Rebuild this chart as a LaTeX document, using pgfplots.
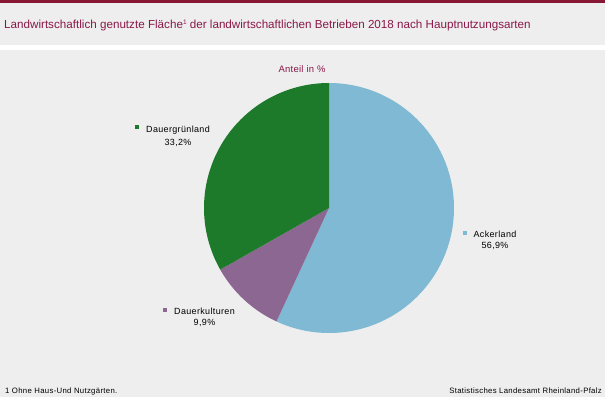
\documentclass[border=0pt]{standalone}
\usepackage{pgfplots}
\pgfplotsset{compat=1.18}
\usepackage{pgfplotstable}
\usepgfplotslibrary{polar}
\usepackage{fontspec}
\setmainfont{Liberation Sans}
\definecolor{bg}{RGB}{237,238,237}
\definecolor{topbar}{RGB}{135,24,52}
\definecolor{titlec}{RGB}{138,24,72}
\definecolor{acker}{RGB}{127,185,212}
\definecolor{gruen}{RGB}{29,122,43}
\definecolor{kultur}{RGB}{139,103,145}
\pgfplotstableread{
cat value
Ackerland 56.9
Dauerkulturen 9.9
Dauergruenland 33.2
}\piedata
\pgfplotstablegetelem{0}{value}\of\piedata \let\vA\pgfplotsretval
\pgfplotstablegetelem{1}{value}\of\piedata \let\vB\pgfplotsretval
\pgfplotstablegetelem{2}{value}\of\piedata \let\vC\pgfplotsretval
\pgfmathsetmacro{\aA}{90-3.6*\vA}
\pgfmathsetmacro{\aB}{\aA-3.6*\vB}
\pgfmathsetmacro{\aC}{\aB-3.6*\vC}
\begin{document}
\begin{tikzpicture}[x=1bp,y=1bp]
\useasboundingbox (0,0) rectangle (605,397);
\fill[bg] (0,0) rectangle (605,397);
\fill[white] (0,347) rectangle (605,352);
\fill[topbar] (0,394) rectangle (605,397);
\node[anchor=base west, inner sep=0, text=titlec, font=\fontsize{11.7}{13}\selectfont] at (4,369) {Landwirtschaftlich genutzte Fläche\raisebox{3.5bp}{\fontsize{6.5}{7}\selectfont 1} der landwirtschaftlichen Betrieben 2018 nach Hauptnutzungsarten};
\node[anchor=base, inner sep=0, text=titlec, font=\fontsize{9.5}{11}\selectfont\addfontfeatures{LetterSpace=3}] at (302,325) {Anteil in \%};
\begin{polaraxis}[
  at={(329bp,189bp)}, anchor=center,
  width=250bp, height=250bp, scale only axis,
  hide axis, ymin=0, ymax=1, xmin=0, xmax=360,
  clip=false]
\addplot[draw=none, fill=acker, domain=\aA:90, samples=150] {1} -- (0,0) -- cycle;
\addplot[draw=none, fill=kultur, domain=\aB:\aA, samples=40] {1} -- (0,0) -- cycle;
\addplot[draw=none, fill=gruen, domain=\aC:\aB, samples=120] {1} -- (0,0) -- cycle;
\end{polaraxis}
\begin{scope}[every node/.style={inner sep=0, font=\fontsize{9}{10}\selectfont\addfontfeatures{LetterSpace=4}}]
\fill[gruen] (135,268) rectangle (139,272);
\node[anchor=base] at (178,264.5) {Dauergrünland};
\node[anchor=base] at (178,252) {33,2\%};
\fill[acker] (463,162) rectangle (467,166);
\node[anchor=base] at (495,160) {Ackerland};
\node[anchor=base] at (495,149) {56,9\%};
\fill[kultur] (163,85) rectangle (167,89);
\node[anchor=base] at (204.5,83) {Dauerkulturen};
\node[anchor=base] at (204.5,72) {9,9\%};
\end{scope}
\node[anchor=base west, inner sep=0, font=\fontsize{7.8}{9}\selectfont\addfontfeatures{LetterSpace=4}] at (5,3.5) {1 Ohne Haus-Und Nutzgärten.};
\node[anchor=base east, inner sep=0, font=\fontsize{7.8}{9}\selectfont\addfontfeatures{LetterSpace=4}] at (602,3.5) {Statistisches Landesamt Rheinland-Pfalz};
\end{tikzpicture}
\end{document}
